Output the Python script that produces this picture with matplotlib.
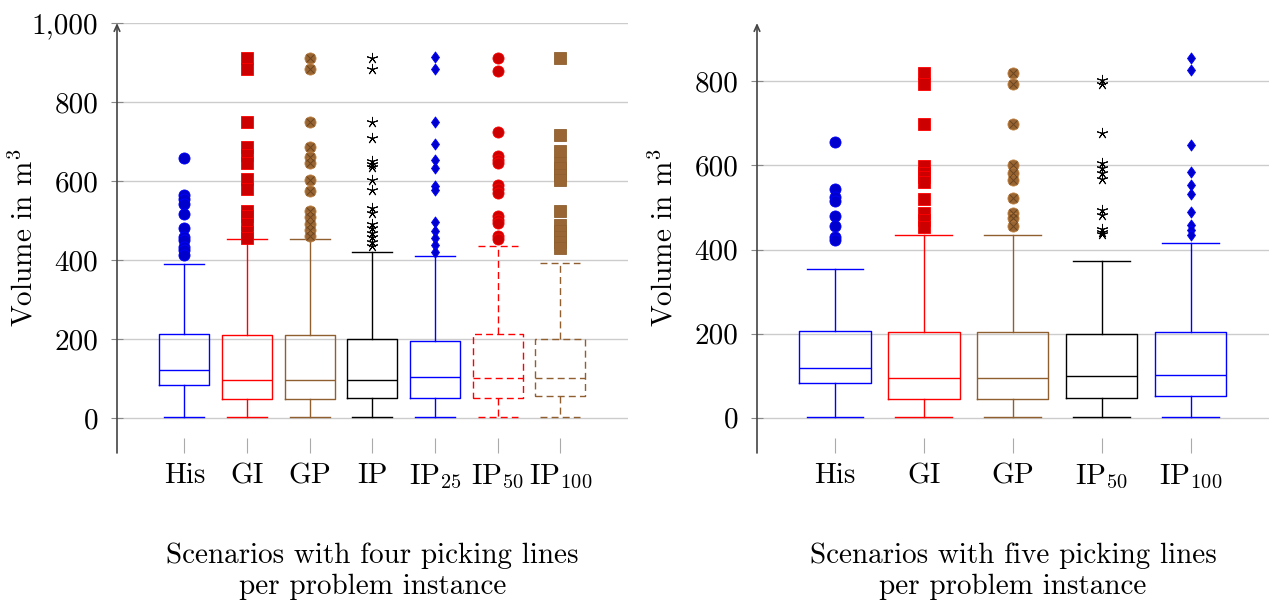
import matplotlib
matplotlib.use("Agg")
import matplotlib.pyplot as plt
from matplotlib.path import Path
from matplotlib.ticker import FuncFormatter

plt.rcParams['font.family'] = ['cmr10', 'DejaVu Serif']
plt.rcParams['mathtext.fontset'] = 'cm'
plt.rcParams['axes.formatter.use_mathtext'] = True
plt.rcParams['axes.unicode_minus'] = False

FS = 21

# ---- four picking lines ----
four_labels = ['His', 'GI', 'GP', 'IP', 'IP$_{25}$', 'IP$_{50}$', 'IP$_{100}$']
four_whislo = [2, 2, 2, 2, 2, 2, 2]
four_q1 = [83, 49, 49, 51, 50, 51, 55]
four_med = [122, 97, 97, 97, 104, 102, 101]
four_q3 = [212, 210, 210, 200, 194, 212, 200]
four_whishi = [389, 452, 452, 419, 411, 436, 391]
four_out_his = [658, 565, 554, 542, 517, 480, 457, 450, 433, 425, 412]
four_out_gi = [912, 884, 750, 685, 665, 645, 605, 580, 525, 510, 490, 470, 455]
four_out_gp = [912, 884, 750, 685, 660, 645, 603, 575, 524, 508, 492, 475, 460]
four_out_ip = [911, 883, 750, 710, 650, 643, 636, 603, 577, 531, 518, 490, 480,
               467, 457, 446, 435]
four_out_ip25 = [913, 883, 750, 694, 653, 632, 586, 577, 497, 472, 455, 438, 420]
four_out_ip50 = [911, 879, 725, 662, 653, 645, 590, 580, 570, 511, 501, 493, 461, 452]
four_out_ip100 = [911, 717, 676, 645, 632, 615, 603, 524, 488, 472, 459, 446, 430]
four_fliers = [four_out_his, four_out_gi, four_out_gp, four_out_ip,
               four_out_ip25, four_out_ip50, four_out_ip100]

# ---- five picking lines ----
five_labels = ['His', 'GI', 'GP', 'IP$_{50}$', 'IP$_{100}$']
five_whislo = [2, 2, 2, 2, 2]
five_q1 = [82, 44, 44, 48, 52]
five_med = [119, 95, 95, 100, 102]
five_q3 = [206, 204, 204, 199, 204]
five_whishi = [354, 434, 434, 373, 416]
five_out_his = [656, 544, 525, 515, 479, 456, 430, 422]
five_out_gi = [821, 793, 698, 599, 581, 572, 560, 521, 486, 470, 454]
five_out_gp = [821, 793, 699, 601, 583, 565, 523, 486, 475, 456]
five_out_ip50 = [803, 793, 678, 605, 593, 581, 569, 494, 482, 450, 442, 436]
five_out_ip100 = [855, 827, 648, 585, 553, 533, 490, 458, 446, 434]
five_fliers = [five_out_his, five_out_gi, five_out_gp, five_out_ip50, five_out_ip100]

# colours: line colour, mark fill (line colour 80% mixed with black)
BLUE = ('#0000ff', '#0000cc')
RED = ('#ff0000', '#cc0000')
BROWN = ('#8f5f30', '#996633')
BLACK = ('#000000', '#000000')

DIAMOND = Path([(0, 1), (0.72, 0), (0, -1), (-0.72, 0), (0, 1)],
               [Path.MOVETO, Path.LINETO, Path.LINETO, Path.LINETO, Path.CLOSEPOLY])


def mark_props(kind, col):
    line, fill = col
    if kind == 'circle':
        return dict(marker='o', markersize=8, markerfacecolor=fill,
                    markeredgecolor=line, markeredgewidth=0.6, linestyle='none')
    if kind == 'square':
        return dict(marker='s', markersize=8.2, markerfacecolor=fill,
                    markeredgecolor=line, markeredgewidth=0.6, linestyle='none')
    if kind == 'otimes':
        return dict(marker='o', markersize=8, markerfacecolor=fill,
                    markeredgecolor='#bf8040', markeredgewidth=0.6, linestyle='none')
    if kind == 'star':
        return dict(marker=(5, 2, 0), markersize=8, markerfacecolor='none',
                    markeredgecolor=line, markeredgewidth=0.7, linestyle='none')
    if kind == 'diamond':
        return dict(marker=DIAMOND, markersize=8, markerfacecolor=fill,
                    markeredgecolor=line, markeredgewidth=0.6, linestyle='none')


def draw_panel(ax, labels, whislo, q1, med, q3, whishi, fliers, styles, ylim, xlim,
               yticks, xlabel):
    positions = list(range(1, len(labels) + 1))
    for i, pos in enumerate(positions):
        col, kind, ls = styles[i]
        lp = dict(color=col[0], linewidth=1.0, linestyle=ls)
        stats = [dict(whislo=whislo[i], q1=q1[i], med=med[i], q3=q3[i],
                      whishi=whishi[i], fliers=fliers[i], label=labels[i])]
        ax.bxp(stats, positions=[pos], widths=0.8, capwidths=0.64,
               showfliers=True, manage_ticks=False,
               boxprops=lp, whiskerprops=lp, capprops=lp, medianprops=lp,
               flierprops=mark_props(kind, col))
        if kind == 'otimes':
            ax.plot([pos] * len(fliers[i]), fliers[i], linestyle='none',
                    marker='x', markersize=5.2, markeredgecolor='#6b4420',
                    markeredgewidth=0.7, zorder=3)

    ax.set_xlim(*xlim)
    ax.set_ylim(*ylim)
    ax.set_yticks(yticks)
    ax.yaxis.set_major_formatter(FuncFormatter(lambda v, p: f"{int(round(v)):,}"))
    ax.set_xticks(positions)
    ax.set_xticklabels(labels)
    ax.grid(axis='y', color='#cccccc', linewidth=1.0)
    ax.set_axisbelow(True)
    for s in ['top', 'right', 'bottom', 'left']:
        ax.spines[s].set_visible(False)
    ax.annotate('', xy=(0, 1.0), xytext=(0, 0), xycoords='axes fraction',
                textcoords='axes fraction',
                arrowprops=dict(arrowstyle='->,head_length=0.45,head_width=0.2',
                                color='#444444', lw=1.2, shrinkA=0, shrinkB=0))
    ax.tick_params(axis='x', direction='in', length=11, width=0.8, color='#aaaaaa',
                   labelsize=FS, pad=7)
    ax.tick_params(axis='y', direction='inout', length=9, width=0.8, color='#888888',
                   labelsize=FS, pad=9)
    ax.set_ylabel('Volume in m$^3$', fontsize=FS)
    ax.yaxis.set_label_coords(-0.182, 0.5)
    ax.yaxis.label.set_va('center')
    ax.set_xlabel(xlabel, fontsize=FS, linespacing=1.27)
    ax.xaxis.set_label_coords(0.5, -0.275)
    ax.xaxis.label.set_va('center')


fig = plt.figure(figsize=(12.79, 6.04), dpi=100)
ax1 = fig.add_axes([117 / 1279, 151 / 604, 511 / 1279, 430 / 604])
ax2 = fig.add_axes([757 / 1279, 151 / 604, 512 / 1279, 430 / 604])

four_styles = [(BLUE, 'circle', '-'), (RED, 'square', '-'), (BROWN, 'otimes', '-'),
               (BLACK, 'star', '-'), (BLUE, 'diamond', '-'),
               (RED, 'circle', (0, (5, 3))), (BROWN, 'square', (0, (5, 3)))]
five_styles = [(BLUE, 'circle', '-'), (RED, 'square', '-'), (BROWN, 'otimes', '-'),
               (BLACK, 'star', '-'), (BLUE, 'diamond', '-')]

draw_panel(ax1, four_labels, four_whislo, four_q1, four_med, four_q3, four_whishi,
           four_fliers, four_styles, (-89, 1000), (-0.075, 8.08),
           [0, 200, 400, 600, 800, 1000],
           'Scenarios with four picking lines\nper problem instance')
draw_panel(ax2, five_labels, five_whislo, five_q1, five_med, five_q3, five_whishi,
           five_fliers, five_styles, (-84, 939), (0.123, 5.88),
           [0, 200, 400, 600, 800],
           'Scenarios with five picking lines\nper problem instance')

fig.savefig('out.png', dpi=100)
